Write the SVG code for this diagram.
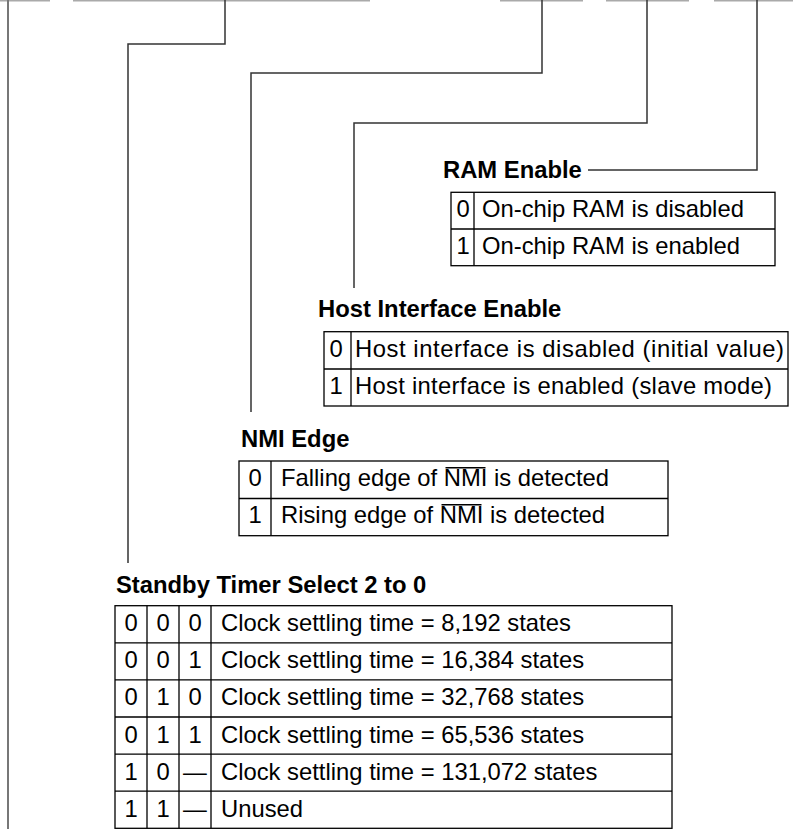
<svg xmlns="http://www.w3.org/2000/svg" width="793" height="829" viewBox="0 0 793 829">
<style>
.t{font-family:"Liberation Sans",Arial,Helvetica,sans-serif;font-size:23.8px;fill:#000}
.h{font-weight:bold}
.c{text-anchor:middle}
.g{fill:none;stroke:#000;stroke-width:1.3}
.conn{fill:none;stroke:#333;stroke-width:1.5}
.top{fill:none;stroke:#aaa;stroke-width:2}
.ovl{fill:none;stroke:#000;stroke-width:1.5}
</style>
<rect width="793" height="829" fill="#fff"/>
<g id="register-edge">
<path class="top" d="M0,0.5H50M73,0.5H370M500,0.5H583M606,0.5H689M714,0.5H793"/>
</g>
<g id="connectors">
<path d="M8,0V829" fill="none" stroke="#777" stroke-width="2"/>
<path class="conn" d="M225,0V44H128V563"/>
<path class="conn" d="M542,0V73H251V412"/>
<path class="conn" d="M647,0V123H354V288"/>
<path class="conn" d="M757,0V170H588"/>
</g>
<g id="ram-enable">
<text class="t h" x="443" y="178">RAM Enable</text>
<rect class="g" x="451" y="192.3" width="324" height="73.4"/>
<path class="g" d="M451,229H775M474,192.3V265.7"/>
<text class="t c" x="463" y="217">0</text>
<text class="t" x="482" y="217">On-chip RAM is disabled</text>
<text class="t c" x="463" y="254">1</text>
<text class="t" x="482" y="254">On-chip RAM is enabled</text>
</g>
<g id="host-interface-enable">
<text class="t h" x="318" y="317">Host Interface Enable</text>
<rect class="g" x="324" y="331.7" width="464" height="74.3"/>
<path class="g" d="M324,369H788M351,331.7V406"/>
<text class="t c" x="336" y="357">0</text>
<text class="t" x="355" y="357" textLength="429" lengthAdjust="spacing">Host interface is disabled (initial value)</text>
<text class="t c" x="336" y="394">1</text>
<text class="t" x="355" y="394" textLength="417" lengthAdjust="spacing">Host interface is enabled (slave mode)</text>
</g>
<g id="nmi-edge">
<text class="t h" x="241" y="447">NMI Edge</text>
<rect class="g" x="239" y="461" width="429" height="74.7"/>
<path class="g" d="M239,498.5H668M271,461V535.7"/>
<text class="t c" x="255" y="486">0</text>
<text class="t" x="281" y="486">Falling edge of NMI is detected</text>
<path class="ovl" d="M445.5,467.8H485.5"/>
<text class="t c" x="255" y="523">1</text>
<text class="t" x="281" y="523">Rising edge of NMI is detected</text>
<path class="ovl" d="M441.5,504.8H481.5"/>
</g>
<g id="standby-timer-select">
<text class="t h" x="116" y="593">Standby Timer Select 2 to 0</text>
<rect class="g" x="115" y="605.7" width="557" height="222.6"/>
<path class="g" d="M115,642.8H672M115,679.9H672M115,717H672M115,754.1H672M115,791.2H672M147,605.7V828.3M179,605.7V828.3M211,605.7V828.3"/>
<text class="t c" x="131" y="631.2">0</text><text class="t c" x="163" y="631.2">0</text><text class="t c" x="195" y="631.2">0</text>
<text class="t" x="221" y="631.2">Clock settling time = 8,192 states</text>
<text class="t c" x="131" y="668.3">0</text><text class="t c" x="163" y="668.3">0</text><text class="t c" x="195" y="668.3">1</text>
<text class="t" x="221" y="668.3">Clock settling time = 16,384 states</text>
<text class="t c" x="131" y="705.4">0</text><text class="t c" x="163" y="705.4">1</text><text class="t c" x="195" y="705.4">0</text>
<text class="t" x="221" y="705.4">Clock settling time = 32,768 states</text>
<text class="t c" x="131" y="742.5">0</text><text class="t c" x="163" y="742.5">1</text><text class="t c" x="195" y="742.5">1</text>
<text class="t" x="221" y="742.5">Clock settling time = 65,536 states</text>
<text class="t c" x="131" y="779.6">1</text><text class="t c" x="163" y="779.6">0</text><text class="t c" x="195" y="779.6">—</text>
<text class="t" x="221" y="779.6">Clock settling time = 131,072 states</text>
<text class="t c" x="131" y="816.7">1</text><text class="t c" x="163" y="816.7">1</text><text class="t c" x="195" y="816.7">—</text>
<text class="t" x="221" y="816.7">Unused</text>
</g>
</svg>
